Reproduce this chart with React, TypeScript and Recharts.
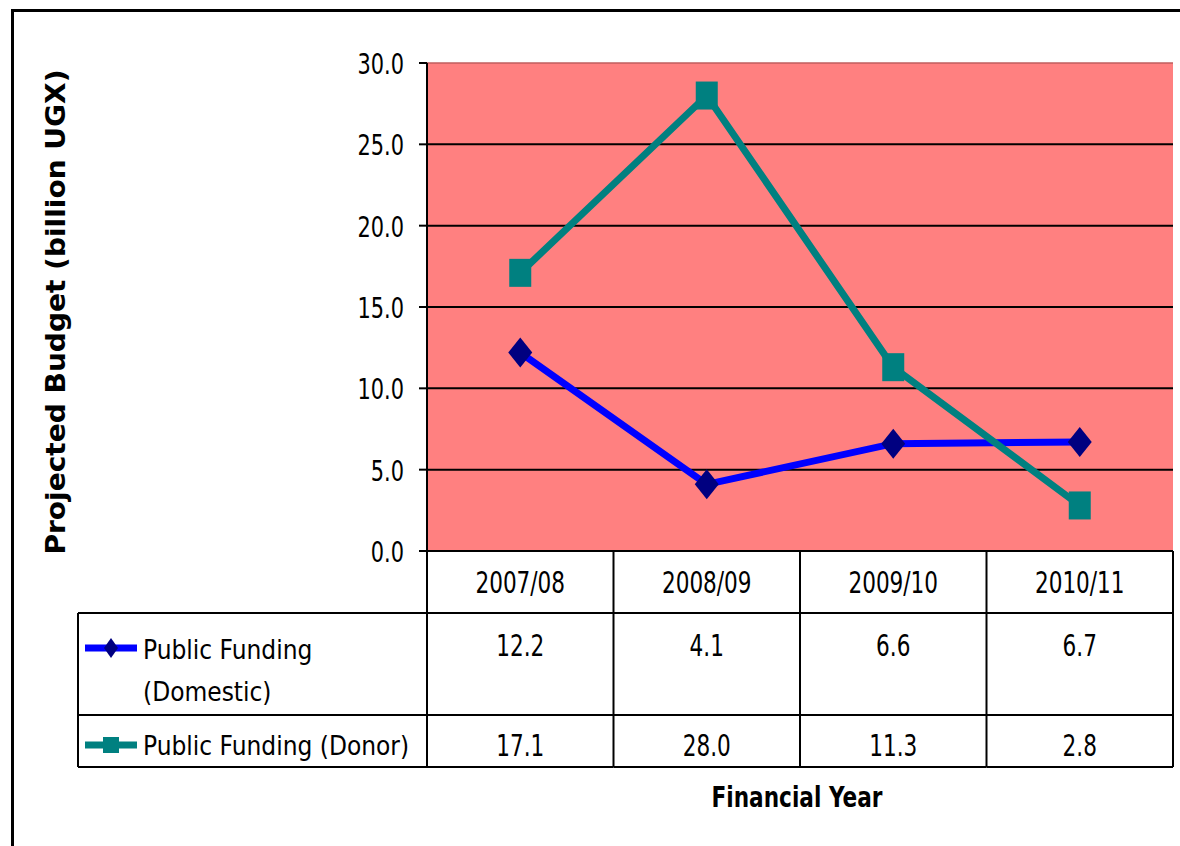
import React from 'react';
import { LineChart, Line, XAxis, YAxis, CartesianGrid, Legend, Label, ReferenceLine } from 'recharts';

const years = ['2007/08', '2008/09', '2009/10', '2010/11'];
const domestic = [12.2, 4.1, 6.6, 6.7];
const donor = [17.1, 28.0, 11.3, 2.8];
const yTicks = [0, 5, 10, 15, 20, 25, 30];
const gridValues = [5, 10, 15, 20, 25];

const DOMESTIC_NAME = 'Public Funding (Domestic)';
const DONOR_NAME = 'Public Funding (Donor)';
const Y_TITLE = 'Projected Budget (billion UGX)';
const X_TITLE = 'Financial Year';

const data = years.map((year, i) => ({ year, domestic: domestic[i], donor: donor[i] }));

// layout (Excel chart with data table under the plot)
const W = 1180;
const H = 846;
const PLOT_L = 427;
const PLOT_R = 1173;
const PLOT_T = 63;
const PLOT_B = 551;
const ROW1 = 613;
const ROW2 = 715;
const TABLE_B = 767;
const LEG_L = 78;
const colW = (PLOT_R - PLOT_L) / years.length;

const condensed = "'DejaVu Sans Condensed', 'DejaVu Sans', sans-serif";

const BLUE = '#0000FF';
const NAVY = '#000080';
const TEAL = '#008080';

// Excel squeezes the number font sideways, so draw it narrowed
const NarrowText = ({ x, y, anchor, size, children }: any) => (
  <g transform={`translate(${x},${y})`}>
    <text transform="scale(0.8,1)" textAnchor={anchor} fontFamily={condensed} fontSize={size} fill="#000">
      {children}
    </text>
  </g>
);

const Diamond = (props: any) => {
  const { cx, cy, index } = props;
  if (cx == null || cy == null) return <g key={index} />;
  return (
    <polygon
      key={index}
      points={`${cx},${cy - 15} ${cx + 12},${cy} ${cx},${cy + 15} ${cx - 12},${cy}`}
      fill={NAVY}
    />
  );
};

const Square = (props: any) => {
  const { cx, cy, index } = props;
  if (cx == null || cy == null) return <g key={index} />;
  return <rect key={index} x={cx - 11} y={cy - 14} width={22} height={28} fill={TEAL} />;
};

const line = (x1: number, y1: number, x2: number, y2: number) => (
  <line x1={x1} y1={y1} x2={x2} y2={y2} stroke="#000" strokeWidth={2} />
);

const YTick = (props: any) => {
  const { x, y, payload } = props;
  return <NarrowText x={x} y={y + 11} anchor="end" size={29}>{payload.value.toFixed(1)}</NarrowText>;
};

const TableTick = (props: any) => {
  const { x, payload } = props;
  const i = years.indexOf(payload.value);
  const l = x - colW / 2;
  const r = x + colW / 2;
  return (
    <g>
      {i === 0 && (
        <g>
          {line(PLOT_L, PLOT_B, PLOT_L, TABLE_B)}
          {line(LEG_L, ROW1, PLOT_L, ROW1)}
          {line(LEG_L, ROW2, PLOT_L, ROW2)}
          {line(LEG_L, TABLE_B, PLOT_L, TABLE_B)}
          {line(LEG_L, ROW1, LEG_L, TABLE_B)}
        </g>
      )}
      {line(r, PLOT_B, r, TABLE_B)}
      {line(l, ROW1, r, ROW1)}
      {line(l, ROW2, r, ROW2)}
      {line(l, TABLE_B, r, TABLE_B)}
      <NarrowText x={x} y={593} anchor="middle" size={30}>{payload.value}</NarrowText>
      <NarrowText x={x} y={656} anchor="middle" size={30}>{domestic[i].toFixed(1)}</NarrowText>
      <NarrowText x={x} y={756} anchor="middle" size={30}>{donor[i].toFixed(1)}</NarrowText>
    </g>
  );
};

const LegendTable = (props: any) => {
  const items = props.payload || [];
  const dom = items.find((p: any) => p.dataKey === 'domestic');
  const don = items.find((p: any) => p.dataKey === 'donor');
  const text = { position: 'absolute' as const, left: 65, fontFamily: condensed, fontSize: 26, lineHeight: '42px', color: '#000', width: 284 };
  return (
    <div style={{ position: 'relative', width: PLOT_L - LEG_L, height: TABLE_B - ROW1 }}>
      {dom && (
        <>
          <svg style={{ position: 'absolute', left: 7, top: 20 }} width={54} height={30}>
            <line x1={0} y1={15} x2={52} y2={15} stroke={dom.color} strokeWidth={7} />
            <polygon points="26,5 33,15 26,25 19,15" fill={NAVY} />
          </svg>
          <div style={{ ...text, top: 16 }}>{dom.value}</div>
        </>
      )}
      {don && (
        <>
          <svg style={{ position: 'absolute', left: 7, top: 117 }} width={54} height={30}>
            <line x1={0} y1={15} x2={52} y2={15} stroke={don.color} strokeWidth={7} />
            <rect x={18} y={7} width={16} height={16} fill={TEAL} />
          </svg>
          <div style={{ ...text, top: 112, whiteSpace: 'nowrap' }}>{don.value}</div>
        </>
      )}
    </div>
  );
};

const YTitle = () => {
  const cx = 65;
  const cy = 312;
  return (
    <text
      x={cx}
      y={cy}
      transform={`rotate(-90 ${cx} ${cy})`}
      textAnchor="middle"
      fontFamily="'DejaVu Sans', sans-serif"
      fontWeight="bold"
      fontSize={27}
      textLength={485}
      lengthAdjust="spacingAndGlyphs"
      fill="#000"
    >
      {Y_TITLE}
    </text>
  );
};

const XTitle = (props: any) => {
  const vb = props.viewBox || {};
  const cx = vb.x + vb.width / 2 - 3;
  return (
    <text
      x={cx}
      y={807}
      textAnchor="middle"
      fontFamily="'DejaVu Sans', sans-serif"
      fontWeight="bold"
      fontSize={28}
      textLength={171}
      lengthAdjust="spacingAndGlyphs"
      fill="#000"
    >
      {X_TITLE}
    </text>
  );
};

export default function App() {
  return (
    <div style={{ position: 'absolute', left: 0, top: 0, width: W, height: H, overflow: 'hidden', background: '#fff' }}>
      <div
        style={{
          position: 'absolute',
          left: 11,
          top: 9,
          width: W + 50,
          height: H + 50,
          borderLeft: '3px solid #000',
          borderTop: '3px solid #000',
        }}
      />
      <LineChart
        width={W}
        height={H}
        data={data}
        margin={{ top: PLOT_T, right: W - PLOT_R, bottom: H - TABLE_B, left: 0 }}
        style={{ position: 'absolute', left: 0, top: 0 }}
      >
        <CartesianGrid
          vertical={false}
          horizontalValues={gridValues}
          stroke="#000"
          strokeWidth={2}
          fill="#FF8080"
          fillOpacity={1}
        />
        <ReferenceLine y={30} stroke="#c05e5e" strokeWidth={1.5} />
        <XAxis
          dataKey="year"
          type="category"
          interval={0}
          padding={{ left: colW / 2, right: colW / 2 }}
          height={TABLE_B - PLOT_B}
          axisLine={{ stroke: '#000', strokeWidth: 2 }}
          tickLine={false}
          tick={<TableTick />}
        >
          <Label content={<XTitle />} />
        </XAxis>
        <YAxis
          width={PLOT_L}
          domain={[0, 30]}
          ticks={yTicks}
          interval={0}
          tick={<YTick />}
          tickSize={8}
          tickMargin={15}
          axisLine={{ stroke: '#000', strokeWidth: 2 }}
          tickLine={{ stroke: '#000', strokeWidth: 2 }}
        >
          <Label content={<YTitle />} />
        </YAxis>
        <Legend
          layout="horizontal"
          verticalAlign="middle"
          align="center"
          content={<LegendTable />}
          wrapperStyle={{ position: 'absolute', left: LEG_L, top: ROW1, width: PLOT_L - LEG_L, height: TABLE_B - ROW1 }}
        />
        <Line
          type="linear"
          dataKey="domestic"
          name={DOMESTIC_NAME}
          stroke={BLUE}
          strokeWidth={7}
          dot={Diamond}
          activeDot={false}
          isAnimationActive={false}
        />
        <Line
          type="linear"
          dataKey="donor"
          name={DONOR_NAME}
          stroke={TEAL}
          strokeWidth={7}
          dot={Square}
          activeDot={false}
          isAnimationActive={false}
        />
      </LineChart>
    </div>
  );
}
